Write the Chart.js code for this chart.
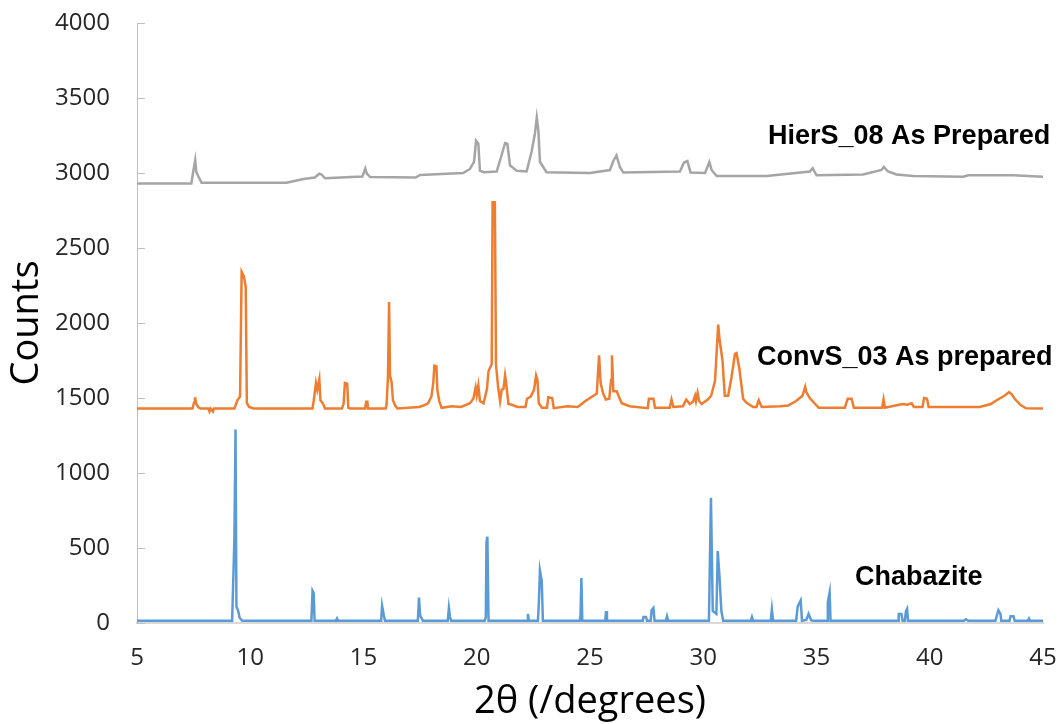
<!DOCTYPE html>
<html>
<head>
<meta charset="utf-8">
<title>XRD patterns</title>
<script src="https://cdn.jsdelivr.net/npm/chart.js@4.4.1/dist/chart.umd.min.js"></script>
<style>
  html, body { margin: 0; padding: 0; background: #fff; }
  #wrap { width: 1059px; height: 724px; }
</style>
</head>
<body>
<div id="wrap"><canvas id="xrd"></canvas></div>
<script>
// 2-theta positions and counts
var chabaziteTheta = [5, 9.2, 9.3, 9.35, 9.39, 9.47, 9.53, 9.65,
  12.7, 12.75, 12.8, 12.84, 13.78, 13.83, 13.88,
  15.78, 15.82, 15.9, 15.95, 17.4, 17.45, 17.5, 17.57, 17.62,
  18.72, 18.77, 18.82, 18.87, 20.35, 20.4, 20.43, 20.47, 20.52,
  22.22, 22.26, 22.3, 22.7, 22.74, 22.79, 22.87, 22.92,
  24.55, 24.58, 24.62, 24.66, 25.67, 25.71, 25.75,
  27.33, 27.36, 27.47, 27.52, 27.68, 27.72, 27.8, 27.85, 28.35, 28.4, 28.45,
  30.25, 30.34, 30.42, 30.58, 30.64, 30.72, 30.8, 30.88,
  32.1, 32.15, 32.2, 32.98, 33.03, 33.08,
  34.1, 34.17, 34.3, 34.36, 34.55, 34.65, 34.76, 34.82,
  35.47, 35.5, 35.58, 35.62, 38.6, 38.63, 38.75, 38.8, 38.9, 38.95, 39.0, 39.04,
  41.5, 41.6, 41.7, 42.9, 42.98, 43.03, 43.12, 43.16,
  43.52, 43.57, 43.7, 43.75, 44.33, 44.38, 44.43, 45];
var chabaziteCounts = [15, 15, 560, 1290, 110, 80, 35, 15,
  15, 215, 200, 15, 15, 30, 15,
  15, 115, 50, 15, 15, 170, 50, 30, 15,
  15, 100, 40, 15, 15, 40, 540, 575, 15,
  15, 60, 15, 15, 130, 350, 280, 15,
  15, 50, 300, 15, 15, 80, 15,
  15, 40, 40, 15, 15, 85, 100, 15, 15, 45, 15,
  15, 835, 80, 60, 480, 300, 80, 15,
  15, 40, 15, 15, 90, 15,
  15, 110, 150, 15, 20, 60, 20, 15,
  15, 140, 205, 15, 15, 60, 60, 15, 15, 80, 95, 15,
  15, 25, 15, 15, 60, 85, 60, 15,
  15, 45, 45, 15, 15, 30, 15, 15];

var convTheta = [5, 7.45, 7.52, 7.56, 7.62, 7.7, 7.8, 8.15, 8.2, 8.25, 8.35, 8.4,
  9.3, 9.45, 9.55, 9.62, 9.72, 9.8, 9.85, 9.95, 10.15,
  12.75, 12.8, 12.9, 12.96, 13.05, 13.1, 13.22, 13.3,
  14.05, 14.12, 14.18, 14.28, 14.33, 14.4, 15.07, 15.12, 15.17, 15.2,
  15.98, 16.02, 16.08, 16.13, 16.17, 16.24, 16.3, 16.4, 16.5,
  17.45, 17.65, 17.85, 18.0, 18.08, 18.13, 18.22, 18.26, 18.35, 18.45,
  18.9, 19.3, 19.7, 19.85, 19.95, 20.0, 20.07, 20.14, 20.3, 20.45, 20.52, 20.66,
  20.7, 20.8, 20.85, 20.95, 21.03, 21.1, 21.18, 21.25, 21.3, 21.4, 21.55, 21.8,
  22.15, 22.22, 22.38, 22.53, 22.62, 22.68, 22.74, 22.88,
  23.1, 23.16, 23.33, 23.4, 24.0, 24.45, 24.55, 24.75, 24.9,
  25.3, 25.4, 25.47, 25.58, 25.7, 25.85, 25.93, 25.97, 26.03, 26.18, 26.3, 26.4, 26.75,
  27.55, 27.6, 27.8, 27.87, 28.52, 28.6, 28.68,
  29.1, 29.25, 29.4, 29.55, 29.64, 29.68, 29.75, 29.82, 29.93, 30.2, 30.35, 30.52,
  30.66, 30.72, 30.85, 30.95, 31.1, 31.25, 31.4, 31.47, 31.6, 31.76, 31.9, 32.2,
  32.35, 32.45, 32.58, 33.4, 33.75, 34.1, 34.38, 34.5, 34.55, 34.7, 35.1,
  36.25, 36.38, 36.55, 36.65, 37.9, 37.96, 38.02, 38.8, 39.0, 39.2, 39.3,
  39.68, 39.75, 39.88, 39.95, 42.2, 42.7, 42.95, 43.3, 43.5, 43.62, 43.75, 44.0, 44.25, 45];
var convCounts = [1430, 1430, 1470, 1505, 1460, 1440, 1430, 1430, 1410, 1430, 1410, 1430,
  1430, 1490, 1510, 2340, 2310, 2240, 1465, 1440, 1430,
  1430, 1480, 1600, 1555, 1625, 1485, 1460, 1430,
  1430, 1460, 1600, 1595, 1435, 1430, 1430, 1475, 1475, 1430,
  1430, 1460, 1640, 2140, 1650, 1605, 1485, 1450, 1430,
  1440, 1450, 1465, 1510, 1600, 1715, 1710, 1555, 1475, 1435,
  1445, 1440, 1465, 1495, 1570, 1520, 1585, 1480, 1465, 1560, 1680, 1725,
  2805, 2805, 1720, 1565, 1480, 1555, 1560, 1650, 1595, 1460, 1455, 1440,
  1440, 1495, 1510, 1555, 1650, 1620, 1465, 1435,
  1435, 1505, 1500, 1432, 1445, 1440, 1450, 1475, 1490,
  1530, 1785, 1600, 1530, 1490, 1495, 1620, 1785, 1545, 1545, 1500, 1465, 1445,
  1432, 1495, 1495, 1435, 1435, 1490, 1440,
  1445, 1490, 1460, 1475, 1515, 1480, 1535, 1480, 1460, 1490, 1515, 1615,
  1990, 1890, 1750, 1515, 1515, 1640, 1795, 1800, 1690, 1495, 1470, 1440,
  1440, 1485, 1440, 1445, 1450, 1480, 1515, 1575, 1540, 1500, 1435,
  1435, 1495, 1495, 1435, 1435, 1490, 1435, 1460, 1455, 1465, 1440,
  1440, 1500, 1495, 1440, 1440, 1460, 1485, 1515, 1540, 1525, 1495, 1455, 1432, 1430];

var hierTheta = [5, 7.4, 7.45, 7.57, 7.62, 7.7, 7.85, 11.6, 12.05, 12.35, 12.85, 13.05, 13.15, 13.3,
  14.95, 15.08, 15.15, 15.3, 17.3, 17.5, 19.4, 19.7, 19.88, 19.97, 20.07, 20.14, 20.3,
  20.88, 21.1, 21.25, 21.35, 21.47, 21.77, 22.2, 22.42, 22.57, 22.65, 22.72, 22.79, 23.08,
  25.0, 25.88, 26.03, 26.17, 26.32, 26.47, 28.97, 29.15, 29.3, 29.44,
  30.08, 30.27, 30.37, 30.59, 32.8, 34.71, 34.83, 35.0, 37.06, 37.87, 37.97, 38.16, 38.53,
  39.27, 41.48, 41.7, 43.68, 45];
var hierCounts = [2930, 2930, 2980, 3085, 3005, 2980, 2935, 2935, 2950, 2960, 2970, 2995, 2990, 2965,
  2977, 3030, 2995, 2973, 2970, 2987, 3000, 3027, 3075, 3215, 3195, 3015, 3005,
  3010, 3120, 3200, 3195, 3050, 3015, 3010, 3140, 3265, 3370, 3285, 3075, 3005,
  3000, 3020, 3080, 3117, 3040, 3003, 3010, 3070, 3080, 3003,
  3000, 3073, 3020, 2980, 2980, 3010, 3032, 2985, 2990, 3020, 3040, 3010, 2990,
  2980, 2975, 2985, 2985, 2975];

var xTicks = [5, 10, 15, 20, 25, 30, 35, 40, 45];
var yTicks = [0, 500, 1000, 1500, 2000, 2500, 3000, 3500, 4000];

var seriesNames = ['HierS_08 As Prepared', 'ConvS_03 As prepared', 'Chabazite'];

function points(xs, ys) {
  return xs.map(function (x, i) { return { x: x, y: ys[i] }; });
}

// the layout padding alone decides the plot box
function noLabelPadding(s) {
  s.paddingTop = 0; s.paddingBottom = 0; s.paddingLeft = 0; s.paddingRight = 0;
}

// Excel style: short tick marks pointing into the plot
var innerTicks = {
  id: 'innerTicks',
  afterDraw: function (chart) {
    var ctx = chart.ctx, area = chart.chartArea, y = chart.scales.y;
    ctx.save();
    ctx.strokeStyle = '#bfbfbf';
    ctx.lineWidth = 1;
    yTicks.forEach(function (v) {
      var py = Math.round(y.getPixelForValue(v)) + 0.5;
      ctx.beginPath();
      ctx.moveTo(area.left, py);
      ctx.lineTo(area.left + 8, py);
      ctx.stroke();
    });
    ctx.restore();
  }
};

// series names written next to each trace
var traceLabels = {
  id: 'traceLabels',
  afterDraw: function (chart) {
    var ctx = chart.ctx;
    ctx.save();
    ctx.fillStyle = '#000';
    ctx.font = 'bold 27px "Liberation Sans", Arial, sans-serif';
    ctx.textBaseline = 'middle';
    ctx.textAlign = 'left';
    ctx.fillText(seriesNames[0], 768, 137);
    ctx.fillText(seriesNames[1], 757, 358);
    ctx.fillText(seriesNames[2], 855, 578);
    ctx.restore();
  }
};

var tickFont = { family: '"Open Sans", sans-serif', size: 24 };

new Chart(document.getElementById('xrd'), {
  type: 'line',
  data: {
    datasets: [
      { label: seriesNames[2], data: points(chabaziteTheta, chabaziteCounts), borderColor: '#5b9bd5' },
      { label: seriesNames[1], data: points(convTheta, convCounts), borderColor: '#ed7d31' },
      { label: seriesNames[0], data: points(hierTheta, hierCounts), borderColor: '#a5a5a5' }
    ]
  },
  options: {
    responsive: true,
    maintainAspectRatio: false,
    animation: false,
    layout: { autoPadding: false, padding: { top: 23, right: 16, left: 0, bottom: 0 } },
    elements: {
      line: { borderWidth: 2.5, tension: 0, fill: false },
      point: { radius: 0, hoverRadius: 0 }
    },
    plugins: { legend: { display: false }, tooltip: { enabled: false } },
    scales: {
      x: {
        type: 'linear',
        min: 5, max: 45,
        afterBuildTicks: function (s) { s.ticks = xTicks.map(function (v) { return { value: v }; }); },
        afterFit: function (s) { s.height = 101; noLabelPadding(s); },
        grid: { display: false, drawTicks: false },
        border: { display: true, color: '#d9d9d9', width: 2 },
        ticks: { color: '#262626', font: tickFont, padding: 21, maxRotation: 0,
          callback: function (v) { return String(v); } },
        title: {
          display: true, text: '2θ (/degrees)', color: '#000',
          font: { family: '"Open Sans", sans-serif', size: 38 },
          padding: { top: 0, bottom: -1 }
        }
      },
      y: {
        min: 0, max: 4000,
        afterBuildTicks: function (s) { s.ticks = yTicks.map(function (v) { return { value: v }; }); },
        afterFit: function (s) { s.width = 137; noLabelPadding(s); },
        grid: { display: false, drawTicks: false },
        border: { display: true, color: '#bfbfbf', width: 1 },
        ticks: { color: '#262626', font: tickFont, padding: 27,
          callback: function (v) { return String(v); } },
        title: {
          display: true, text: 'Counts', color: '#000',
          font: { family: '"Open Sans", sans-serif', size: 38 },
          padding: { top: 4, bottom: 0 }
        }
      }
    }
  },
  plugins: [innerTicks, traceLabels]
});
</script>
</body>
</html>
